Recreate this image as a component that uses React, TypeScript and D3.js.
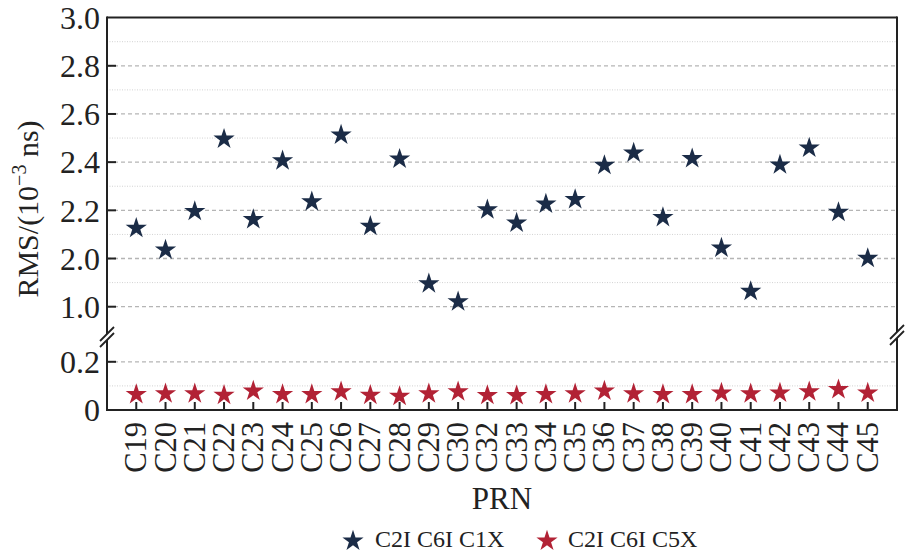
import React from 'react';
import * as d3 from 'd3';

const PRN = [
  'C19', 'C20', 'C21', 'C22', 'C23', 'C24', 'C25', 'C26', 'C27', 'C28', 'C29', 'C30', 'C32',
  'C33', 'C34', 'C35', 'C36', 'C37', 'C38', 'C39', 'C40', 'C41', 'C42', 'C43', 'C44', 'C45'
];

// C2I C6I C1X (upper panel)
const RMS_C1X = [
  2.13, 2.04, 2.2, 2.5, 2.166, 2.41, 2.24, 2.517, 2.138, 2.417, 1.9, 1.825, 2.207,
  2.152, 2.231, 2.249, 2.391, 2.442, 2.175, 2.419, 2.048, 1.868, 2.393, 2.463, 2.196, 2.005
];

// C2I C6I C5X (lower panel)
const RMS_C5X = [
  0.069, 0.072, 0.072, 0.066, 0.083, 0.069, 0.069, 0.08, 0.066, 0.061, 0.072, 0.08, 0.065,
  0.064, 0.069, 0.072, 0.083, 0.072, 0.069, 0.069, 0.075, 0.072, 0.075, 0.08, 0.089, 0.075
];

const TOP_TICKS = [1.8, 2.0, 2.2, 2.4, 2.6, 2.8, 3.0];
const TOP_TICK_LABELS = ['1.0', '2.0', '2.2', '2.4', '2.6', '2.8', '3.0'];
const TOP_MINOR = [1.9, 2.1, 2.3, 2.5, 2.7, 2.9];
const BOT_TICKS = [0, 0.2];
const BOT_TICK_LABELS = ['0', '0.2'];
const BOT_MINOR = [0.1];

const SERIES = ['C2I C6I C1X', 'C2I C6I C5X'];
const COLORS = ['#1b2c47', '#b22235'];

const FONT = '"Liberation Serif", "Times New Roman", serif';
const INK = '#222';

export default function App() {
  const left = 107, right = 897, top = 17.6, bottom = 410;
  const breakY = 337;

  const x = d3.scalePoint<string>().domain(PRN).range([left, right]).padding(1);
  const yTop = d3.scaleLinear().domain([1.8, 3.0]).range([306.7, top]);
  const yBot = d3.scaleLinear().domain([0, 0.2]).range([bottom, 361.8]);

  const star = d3.symbol(d3.symbolStar, 140)() as string;
  const legendStar = d3.symbol(d3.symbolStar, 140)() as string;

  const grid = (y: number, major: boolean, key: string) => (
    <line key={key} x1={left} x2={right} y1={y} y2={y}
      stroke={major ? '#b5b5b5' : '#d2d2d2'}
      strokeWidth={major ? 1.3 : 1}
      strokeDasharray={major ? '4 3' : '1 1.5'} />
  );

  const slash = (cx: number, cy: number, key: string) => (
    <g key={key} stroke={INK} strokeWidth={1.8}>
      <line x1={cx - 7} y1={cy + 6} x2={cx + 7} y2={cy - 8} />
      <line x1={cx - 7} y1={cy + 12} x2={cx + 7} y2={cy - 2} />
    </g>
  );

  return (
    <svg width={910} height={558} style={{ position: 'absolute', left: 0, top: 0, background: '#fff' }}
      fontFamily={FONT}>
      {/* grid */}
      {TOP_TICKS.filter(t => t < 3.0).map(t => grid(yTop(t), true, 'tg' + t))}
      {TOP_MINOR.map(t => grid(yTop(t), false, 'tm' + t))}
      {BOT_TICKS.filter(t => t > 0).map(t => grid(yBot(t), true, 'bg' + t))}
      {BOT_MINOR.map(t => grid(yBot(t), false, 'bm' + t))}

      {/* frame */}
      <g stroke={INK} strokeWidth={2} fill="none">
        <line x1={left} x2={right} y1={top} y2={top} />
        <line x1={left} x2={right} y1={bottom} y2={bottom} />
        <line x1={left} x2={left} y1={top - 1} y2={breakY - 3} />
        <line x1={left} x2={left} y1={breakY + 3} y2={bottom + 1} />
        <line x1={right} x2={right} y1={top - 1} y2={breakY - 5} />
        <line x1={right} x2={right} y1={breakY + 1} y2={bottom + 1} />
      </g>
      {slash(left, breakY - 2, 'sl')}
      {slash(right, breakY - 4, 'sr')}

      {/* ticks */}
      <g stroke={INK} strokeWidth={2}>
        {TOP_TICKS.filter(t => t < 3.0).map(t => (
          <line key={'tt' + t} x1={left} x2={left + 9} y1={yTop(t)} y2={yTop(t)} />
        ))}
        {BOT_TICKS.filter(t => t > 0).map(t => (
          <line key={'bt' + t} x1={left} x2={left + 9} y1={yBot(t)} y2={yBot(t)} />
        ))}
        {PRN.map(p => (
          <line key={'xt' + p} x1={x(p)} x2={x(p)} y1={bottom} y2={bottom - 8} />
        ))}
      </g>
      <g fontSize={32} fill={INK} textAnchor="end">
        {TOP_TICKS.map((t, i) => (
          <text key={'tl' + t} x={left - 7} y={yTop(t)} dy="0.35em">{TOP_TICK_LABELS[i]}</text>
        ))}
        {BOT_TICKS.map((t, i) => (
          <text key={'bl' + t} x={left - 7} y={yBot(t)} dy="0.35em">{BOT_TICK_LABELS[i]}</text>
        ))}
      </g>
      <g fontSize={30.5} fill={INK} textAnchor="end">
        {PRN.map(p => (
          <text key={'xl' + p} transform={`translate(${x(p)! + 10},${bottom + 12}) rotate(-90)`}>{p}</text>
        ))}
      </g>

      {/* axis titles */}
      <text x={502} y={509} fontSize={31} fill={INK} textAnchor="middle">PRN</text>
      <text transform="translate(38,209) rotate(-90)" fontSize={30} fill={INK} textAnchor="middle">
        RMS/(10<tspan dy={-12} fontSize={20}>−3</tspan><tspan dy={12}> ns)</tspan>
      </text>

      {/* points */}
      {RMS_C1X.map((v, i) => (
        <path key={'a' + i} d={star} transform={`translate(${x(PRN[i])},${yTop(v) + 1})`} fill={COLORS[0]} />
      ))}
      {RMS_C5X.map((v, i) => (
        <path key={'b' + i} d={star} transform={`translate(${x(PRN[i])},${yBot(v) + 1})`} fill={COLORS[1]} />
      ))}

      {/* legend */}
      <g fontSize={24} fill={INK}>
        <path d={legendStar} transform="translate(353,541)" fill={COLORS[0]} />
        <text x={375} y={547}>{SERIES[0]}</text>
        <path d={legendStar} transform="translate(547,541)" fill={COLORS[1]} />
        <text x={568} y={547}>{SERIES[1]}</text>
      </g>
    </svg>
  );
}
